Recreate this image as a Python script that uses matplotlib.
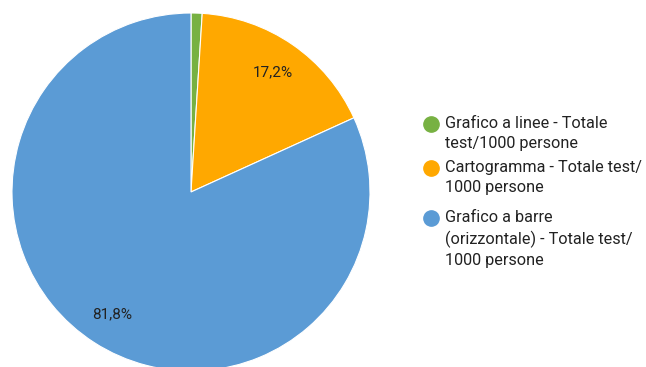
import matplotlib
matplotlib.use("Agg")
import matplotlib.pyplot as plt
from matplotlib.lines import Line2D

# Share of total tests per 1000 people by chart type
categories = [
    "Grafico a linee - Totale\ntest/1000 persone",
    "Cartogramma - Totale test/\n1000 persone",
    "Grafico a barre\n(orizzontale) - Totale test/\n1000 persone",
]
values = [1.0, 17.2, 81.8]
colors = ["#77b142", "#ffa800", "#5b9bd5"]

plt.rcParams["font.family"] = ["Roboto", "DejaVu Sans"]

W, H = 646, 367
fig = plt.figure(figsize=(W / 100, H / 100), dpi=100)

cx, cy, r = 191, 192, 179
ax = fig.add_axes([(cx - r) / W, (H - cy - r) / H, 2 * r / W, 2 * r / H])


def pct_label(p):
    return f"{p:.1f}%".replace(".", ",") if p >= 5 else ""


wedges, texts, autotexts = ax.pie(
    values,
    colors=colors,
    startangle=90,
    counterclock=False,
    radius=1,
    autopct=pct_label,
    pctdistance=0.81,
    wedgeprops=dict(edgecolor="white", linewidth=0.8),
    textprops=dict(fontsize=11, color="#222222"),
)
ax.set_xlim(-1, 1)
ax.set_ylim(-1, 1)
ax.set_aspect("equal")
ax.axis("off")

# Legend drawn as marker + multi-line text entries
marker_y = [124, 168, 218]
for lab, col, ym in zip(categories, colors, marker_y):
    fig.add_artist(Line2D([431 / W], [1 - ym / H], marker="o", markersize=11,
                          color=col, linestyle="none", transform=fig.transFigure))
    fig.text(445 / W, 1 - (ym - 8) / H, lab, fontsize=11.7, color="#222222",
             va="top", ha="left", linespacing=1.42,
             transform=fig.transFigure)

fig.savefig("out.png", dpi=100)
